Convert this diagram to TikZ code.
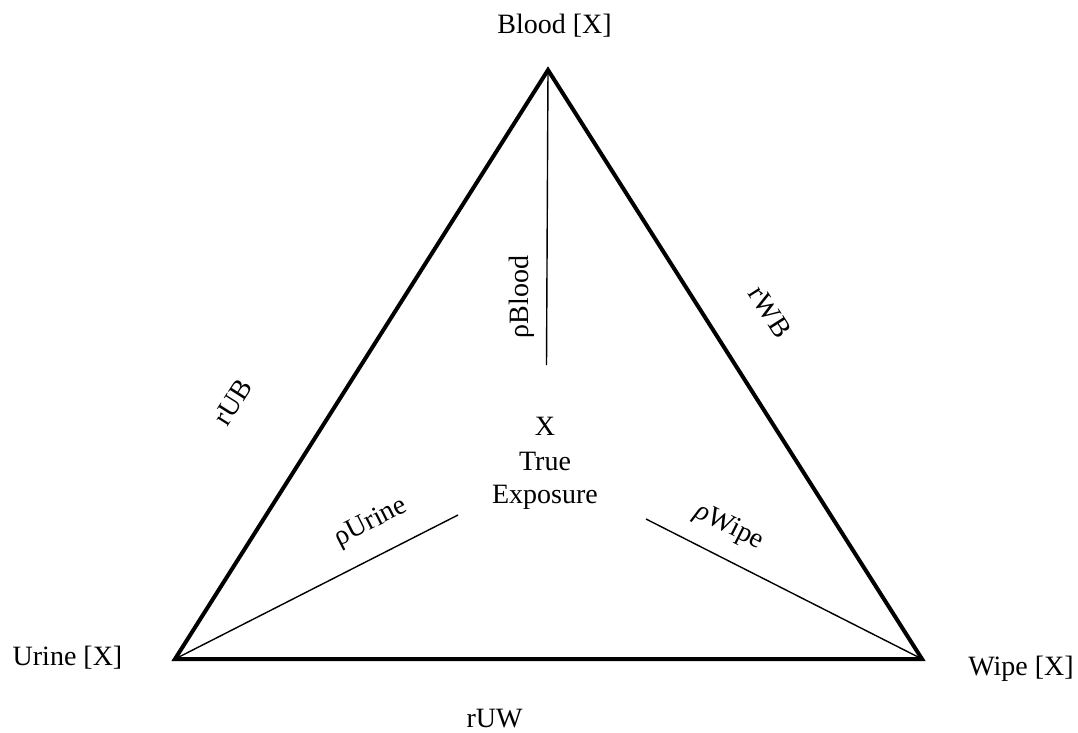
\documentclass[tikz,border=0pt]{standalone}
\usepackage{fontspec}
\setmainfont{Liberation Serif}
\begin{document}
\begin{tikzpicture}[x=1pt,y=-1pt,
  lbl/.style={inner sep=0pt,font=\fontsize{28}{34}\selectfont},
  tri/.style={line width=4pt,line join=miter},
  spoke/.style={line width=1.4pt}]
\useasboundingbox (0,0) rectangle (1078,732);
% vertices
\coordinate (B) at (548,70);
\coordinate (U) at (175,659);
\coordinate (W) at (922,659);
% inner spoke ends
\coordinate (Bend) at (546.5,365);
\coordinate (Uend) at (458,515);
\coordinate (Wend) at (646,519);
\draw[tri] (B) -- (U) -- (W) -- cycle;
\draw[spoke] (B) -- (Bend);
\draw[spoke] (U) -- (Uend);
\draw[spoke] (W) -- (Wend);
% labels
\node[lbl,anchor=base] (blood) at (554.5,33) {Blood [X]};
\node[lbl,anchor=base] (urine) at (67.5,665) {Urine [X]};
\node[lbl,anchor=base] (wipe) at (1021,675) {Wipe [X]};
\node[lbl,anchor=base] (ruw) at (494.5,727) {rUW};
\node[lbl,rotate=57.6] (rub) at (233,402) {rUB};
\node[lbl,rotate=-57.6] (rwb) at (770,312) {rWB};
\node[lbl,rotate=90] (pblood) at (522,297) {ρBlood};
\node[lbl,rotate=27] (purine) at (371,523) {ρUrine};
\node[lbl,rotate=-27] (pwipe) at (729,527) {\textit{ρ}Wipe};
\node[lbl,anchor=base] (x) at (545,435) {X};
\node[lbl,anchor=base] (true) at (545,470) {True};
\node[lbl,anchor=base] (expo) at (545,503) {Exposure};
\end{tikzpicture}
\end{document}
